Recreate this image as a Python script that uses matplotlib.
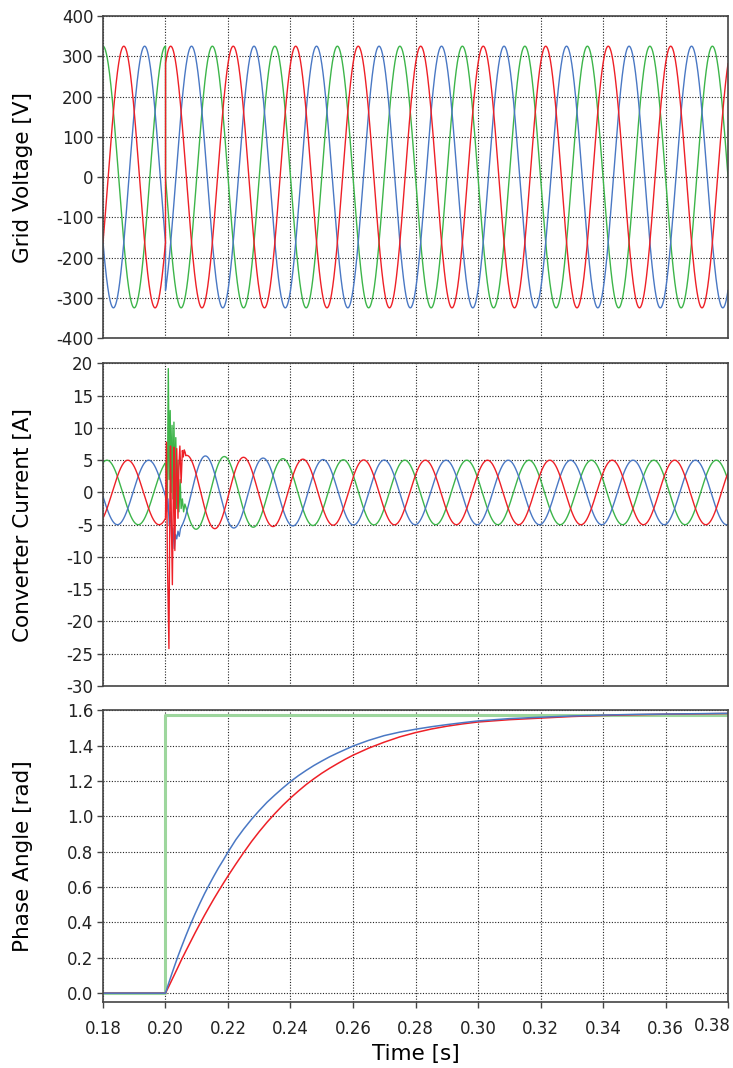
import numpy as np
import matplotlib
matplotlib.use("Agg")
import matplotlib.pyplot as plt
import matplotlib.transforms as mtransforms

plt.rcParams['font.family'] = ['DejaVu Sans']
plt.rcParams['axes.unicode_minus'] = False

# ------------------------------------------------
# values

# grid voltage: three 50 Hz phases (red, blue, green), phase step of +90 deg at 0.20 s
v_amp = 325.0
f_grid = 50.0
t_step = 0.20
phase_deg = [120, 240, 0]          # red, blue, green (before the step)
phase_jump_deg = 90

# estimated phase angle [rad]
t_phase = [0.18, 0.200, 0.201, 0.202, 0.203, 0.204, 0.205, 0.2065, 0.208, 0.2095,
           0.211, 0.2125, 0.214, 0.2155, 0.217, 0.2185, 0.220, 0.2225, 0.225, 0.2275,
           0.230, 0.2325, 0.235, 0.2375, 0.240, 0.2425, 0.245, 0.2475, 0.250, 0.2525,
           0.255, 0.2575, 0.260, 0.265, 0.270, 0.275, 0.280, 0.285, 0.290, 0.295,
           0.300, 0.31, 0.32, 0.33, 0.34, 0.35, 0.36, 0.37, 0.38]
theta_blue = [0.0, 0.0, 0.055, 0.108, 0.159, 0.209, 0.256, 0.324, 0.389, 0.450,
              0.508, 0.563, 0.614, 0.663, 0.710, 0.753, 0.798, 0.868, 0.928, 0.983,
              1.033, 1.080, 1.121, 1.160, 1.197, 1.230, 1.260, 1.288, 1.313, 1.337,
              1.358, 1.378, 1.398, 1.430, 1.457, 1.477, 1.493, 1.507, 1.519, 1.530,
              1.540, 1.553, 1.561, 1.568, 1.573, 1.577, 1.579, 1.581, 1.583]
theta_red = [0.0, 0.0, 0.036, 0.073, 0.110, 0.147, 0.185, 0.238, 0.290, 0.342,
             0.392, 0.441, 0.488, 0.534, 0.578, 0.621, 0.663, 0.730, 0.795, 0.857,
             0.914, 0.967, 1.016, 1.062, 1.104, 1.143, 1.180, 1.213, 1.244, 1.272,
             1.298, 1.323, 1.346, 1.386, 1.420, 1.450, 1.474, 1.494, 1.510, 1.523,
             1.534, 1.547, 1.556, 1.565, 1.571, 1.575, 1.578, 1.580, 1.582]
t_green = [0.18, 0.20, 0.20, 0.38]
theta_green = [0.0, 0.0, 1.5708, 1.5708]

# converter current: 5 A before the step, lagging the voltage
i_amp = 5.0
i_lag_deg = 23
t_env = [0.2065, 0.21, 0.22, 0.23, 0.24, 0.25, 0.26, 0.28, 0.38]
i_env = [5.75, 5.7, 5.55, 5.35, 5.2, 5.1, 5.05, 5.0, 5.0]

# transient right after the step
t_tr_red = [0.2000, 0.2003, 0.2006, 0.2011, 0.2014, 0.2016, 0.2019, 0.2022, 0.2025, 0.2027,
            0.2030, 0.2033, 0.2036, 0.2040, 0.2043, 0.2046, 0.2050, 0.2054, 0.2057, 0.2060, 0.2063]
i_tr_red = [-4.0, 7.8, -10.0, -24.2, -2.0, 7.2, -5.0, -14.3, 0.0, 7.0,
            -9.0, 2.0, 6.8, -4.0, 4.0, 7.2, 1.5, 6.5, 5.5, 6.6, 6.2]
t_tr_green = [0.2000, 0.2006, 0.2009, 0.2012, 0.2015, 0.2018, 0.2021, 0.2024, 0.2027, 0.2030,
              0.2033, 0.2036, 0.2040, 0.2043, 0.2047, 0.2050, 0.2054, 0.2058, 0.2062]
i_tr_green = [4.6, -1.0, 19.2, 2.0, 12.7, 0.0, 10.4, -1.0, 10.9, 1.0,
              8.5, -2.5, 5.0, -3.0, 2.0, -2.5, -1.0, -3.0, -1.8]
t_tr_blue = [0.2000, 0.2004, 0.2008, 0.2012, 0.2016, 0.2020, 0.2024, 0.2028, 0.2032, 0.2036,
             0.2040, 0.2044, 0.2048, 0.2052, 0.2056, 0.2060, 0.2063]
i_tr_blue = [-0.6, -3.0, -1.0, -5.0, -3.0, -7.5, -5.5, -8.7, -6.5, -7.2,
             -6.0, -6.8, -5.6, -5.2, -4.8, -4.3, -3.9]
t_tr_end = 0.2065

colors = {'red': '#ee2027', 'blue': '#4a78c4', 'green': '#3db54a'}
green_light = '#9dd69d'

# ------------------------------------------------
# build the traces
w = 2 * np.pi * f_grid
t_pre = np.linspace(0.18, t_step, 2001)
t_post = np.linspace(t_step, 0.38, 18001)

volt = {}
for name, ph in zip(['red', 'blue', 'green'], phase_deg):
    v_pre = v_amp * np.cos(w * t_pre - np.deg2rad(ph))
    v_post = v_amp * np.cos(w * t_post - np.deg2rad(ph - phase_jump_deg))
    volt[name] = (np.concatenate([t_pre, t_post]), np.concatenate([v_pre, v_post]))

tr = {'red': (t_tr_red, i_tr_red), 'blue': (t_tr_blue, i_tr_blue), 'green': (t_tr_green, i_tr_green)}
t_late = np.linspace(t_tr_end, 0.38, 17501)
th_late = np.interp(t_late, t_phase, theta_blue)
env_late = np.interp(t_late, t_env, i_env)
curr = {}
for name, ph in zip(['red', 'blue', 'green'], phase_deg):
    a = np.deg2rad(ph + i_lag_deg)
    i_pre = i_amp * np.cos(w * t_pre[:-1] - a)
    i_late = env_late * np.cos(w * t_late - a + th_late)
    tt, ii = tr[name]
    curr[name] = (np.concatenate([t_pre[:-1], tt, t_late]), np.concatenate([i_pre, ii, i_late]))

# ------------------------------------------------
# figure
fig, axes = plt.subplots(3, 1, figsize=(7.33, 10.68), dpi=100, sharex=True)
ax1, ax2, ax3 = axes
ax1.set_position([0.1405, 0.6835, 0.8527, 0.3015])
ax2.set_position([0.1405, 0.3577, 0.8527, 0.3020])
ax3.set_position([0.1405, 0.0618, 0.8527, 0.2731])

for name in ['green', 'blue', 'red']:
    ax1.plot(*volt[name], color=colors[name], lw=1.0)
    ax2.plot(*curr[name], color=colors[name], lw=1.0)

ax3.plot(t_green, theta_green, color=green_light, lw=2.2)
ax3.plot(t_phase, theta_red, color=colors['red'], lw=1.1)
ax3.plot(t_phase, theta_blue, color=colors['blue'], lw=1.1)

ax1.set_ylim(-400, 400)
ax1.set_yticks([-400, -300, -200, -100, 0, 100, 200, 300, 400])
ax2.set_ylim(-30, 20)
ax2.set_yticks([-30, -25, -20, -15, -10, -5, 0, 5, 10, 15, 20])
ax3.set_ylim(-0.05, 1.6)
ax3.set_yticks([0.0, 0.2, 0.4, 0.6, 0.8, 1.0, 1.2, 1.4, 1.6])
ax3.set_yticklabels([f'{v:.1f}' for v in [0.0, 0.2, 0.4, 0.6, 0.8, 1.0, 1.2, 1.4, 1.6]])

xt = [0.18, 0.20, 0.22, 0.24, 0.26, 0.28, 0.30, 0.32, 0.34, 0.36, 0.38]
ax3.set_xlim(0.18, 0.38)
ax3.set_xticks(xt)
ax3.set_xticklabels([f'{v:.2f}' for v in xt])

ax1.set_ylabel('Grid Voltage [V]', fontsize=15.5)
ax2.set_ylabel('Converter Current [A]', fontsize=15.5)
ax3.set_ylabel('Phase Angle [rad]', fontsize=15.5)
ax3.set_xlabel('Time [s]', fontsize=15.5)
for ax in axes:
    ax.yaxis.set_label_coords(-0.112, 0.5)
ax3.xaxis.set_label_coords(0.5, -0.145)
ax3.xaxis.label.set_va('top')

for ax in axes:
    ax.grid(True, color='#222222', linestyle=(0, (1, 1.5)), lw=0.8)
    ax.set_axisbelow(True)
    for sp in ax.spines.values():
        sp.set_color('#444444')
        sp.set_linewidth(1.2)
    ax.tick_params(axis='y', direction='out', length=4, width=1, color='#444444',
                   labelsize=12, labelcolor='#222222', pad=3)
    ax.tick_params(axis='x', direction='out', length=0, labelsize=12, labelcolor='#222222')
ax3.tick_params(axis='x', length=4, width=1, color='#444444', pad=9)

# last x label sits flush right and a bit higher
lab = ax3.get_xticklabels()[-1]
lab.set_horizontalalignment('right')
lab.set_transform(lab.get_transform() + mtransforms.ScaledTranslation(0.03, 0.03, fig.dpi_scale_trans))

fig.savefig('out.png', dpi=100)
